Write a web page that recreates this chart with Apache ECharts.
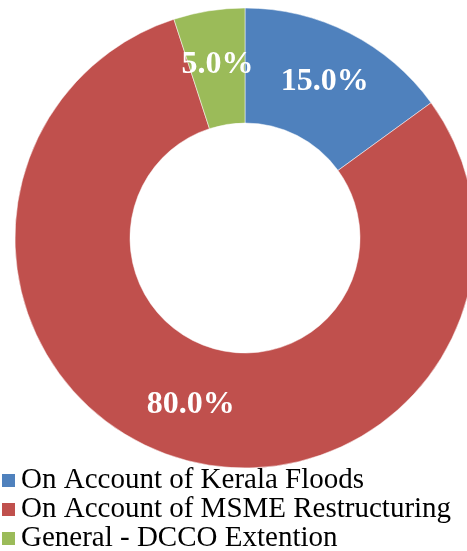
<!DOCTYPE html>
<html>
<head>
<meta charset="utf-8">
<script src="https://cdn.jsdelivr.net/npm/echarts@6/dist/echarts.min.js"></script>
<style>
  html, body { margin: 0; padding: 0; background: #fff; }
  #chart { width: 467px; height: 551px; }
</style>
</head>
<body>
<div id="chart"></div>
<script>
var categories = ['On Account of Kerala Floods', 'On Account of MSME Restructuring', 'General - DCCO Extention'];
var shares = [15.0, 80.0, 5.0];
var colors = ['#4F81BD', '#C0504D', '#9BBB59'];

var pieData = [];
categories.forEach(function (name, i) {
  pieData.push({ name: name, value: shares[i], itemStyle: { color: colors[i] } });
});

var chart = echarts.init(document.getElementById('chart'));
chart.setOption({
  animation: false,
  legend: {
    orient: 'vertical',
    left: 0,
    top: 466,
    height: 120,
    padding: 0,
    icon: 'rect',
    itemWidth: 15,
    itemHeight: 15,
    itemGap: 0,
    textStyle: {
      fontFamily: 'Liberation Serif',
      fontSize: 29,
      lineHeight: 28,
      color: '#000'
    },
    data: categories
  },
  series: [
    {
      type: 'pie',
      center: [245, 238],
      radius: [115, 230],
      startAngle: 90,
      clockwise: true,
      avoidLabelOverlap: false,
      itemStyle: { borderColor: '#fff', borderWidth: 0.5 },
      label: {
        show: true,
        position: 'inside',
        formatter: function (p) { return p.value.toFixed(1) + '%'; },
        color: '#fff',
        fontFamily: 'Liberation Serif',
        fontWeight: 'bold',
        fontSize: 32
      },
      labelLine: { show: false },
      emphasis: { disabled: true },
      data: pieData
    }
  ]
});
</script>
</body>
</html>
